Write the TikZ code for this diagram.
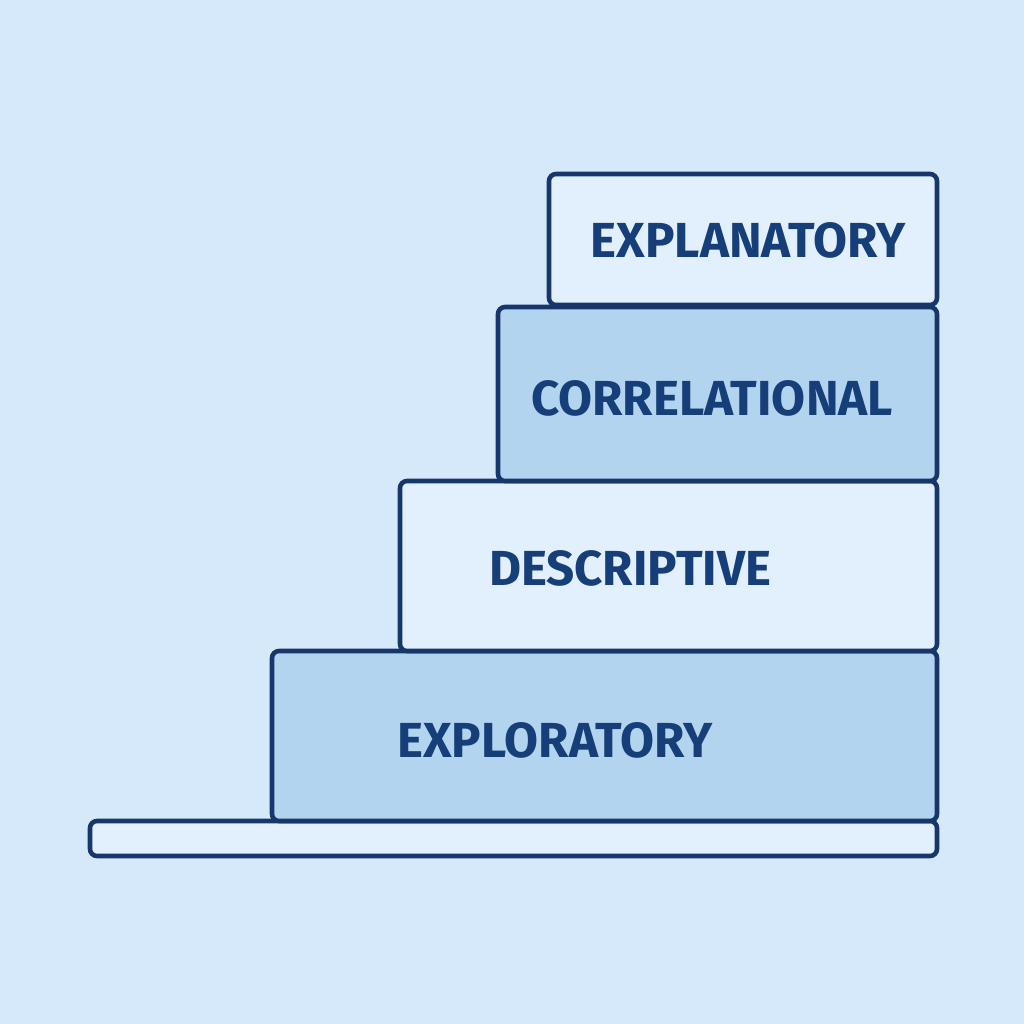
\documentclass[tikz,border=0pt]{standalone}
\usepackage{fontspec}
\setmainfont{Fira Sans}
\definecolor{bgblue}{HTML}{D6E9FB}
\definecolor{lightstep}{HTML}{E1F0FC}
\definecolor{midstep}{HTML}{B3D4EF}
\definecolor{navy}{HTML}{17376A}
\definecolor{labelblue}{HTML}{163E78}
\begin{document}
\begin{tikzpicture}[x=0.01cm, y=-0.01cm,
        stair/.style={draw=navy, line width=1.3pt, rounded corners=2pt},
        steplabel/.style={text=labelblue, font=\bfseries\fontsize{14}{14}\selectfont}
    ]
        % Background
        \fill[bgblue] (0,0) rectangle (1024,1024);
        \useasboundingbox (0,0) rectangle (1024,1024);

        % Steps from bottom to top
        \draw[stair, fill=lightstep] (90,821) rectangle (937,856);
        \draw[stair, fill=midstep] (272,651) rectangle (937,821);
        \draw[stair, fill=lightstep] (400,481) rectangle (937,651);
        \draw[stair, fill=midstep] (498,307) rectangle (937,481);
        \draw[stair, fill=lightstep] (549,174) rectangle (937,305);

        % Labels
        \node[steplabel] (explanatory) at (748,240) {EXPLANATORY};
        \node[steplabel] (correlational) at (712,398) {CORRELATIONAL};
        \node[steplabel] (descriptive) at (630,568) {DESCRIPTIVE};
        \node[steplabel] (exploratory) at (555,740) {EXPLORATORY};

    \end{tikzpicture}
\end{document}
